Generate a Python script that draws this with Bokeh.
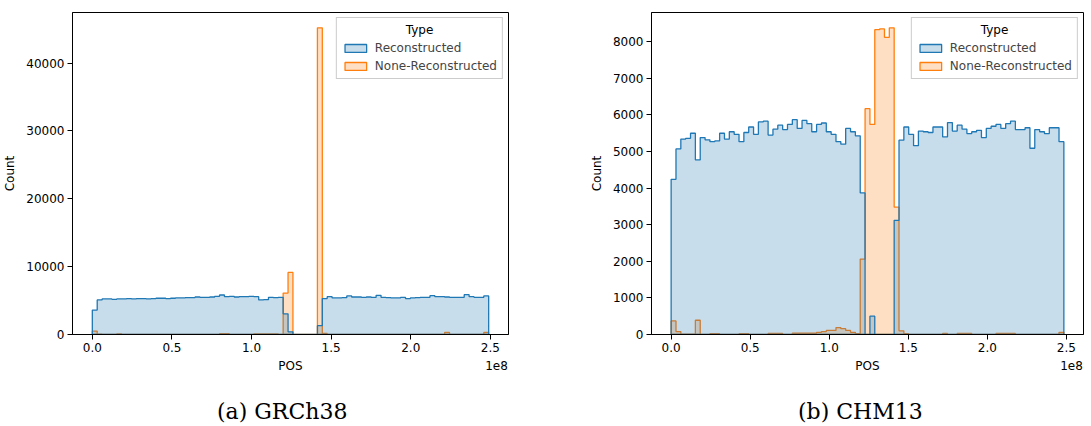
import numpy as np
from bokeh.plotting import figure
from bokeh.models import (Range1d, Legend, LegendItem, Label, FixedTicker, PrintfTickFormatter,
                          LinearAxis, CustomJSTickFormatter, Div)
from bokeh.layouts import row, column
from bokeh.embed import file_html
from bokeh.resources import INLINE

# ---------------- data ----------------
grch38_length = 248956422
chm13_length = 248387328

grch38_reconstructed = [
    3600, 5090, 5240, 5240, 5190, 5240, 5240, 5290, 5240, 5290,
    5290, 5240, 5290, 5340, 5340, 5290, 5340, 5390, 5390, 5440,
    5440, 5530, 5480, 5480, 5530, 5630, 5820, 5580, 5630, 5530,
    5580, 5580, 5630, 5580, 5100, 5140, 5480, 5430, 5480, 3050,
    400, 0, 0, 0, 0, 0, 1300, 5290, 5580, 5390,
    5390, 5430, 5680, 5530, 5530, 5480, 5530, 5480, 5770, 5480,
    5440, 5390, 5390, 5480, 5290, 5390, 5440, 5480, 5480, 5720,
    5580, 5580, 5530, 5480, 5480, 5480, 5870, 5580, 5480, 5480,
    5680,
]
grch38_none_reconstructed = [
    500, 60, 0, 0, 0, 100, 0, 0, 0, 0,
    0, 0, 0, 0, 0, 0, 0, 0, 0, 0,
    0, 0, 0, 0, 0, 0, 120, 120, 0, 0,
    0, 0, 0, 100, 100, 100, 100, 100, 0, 6100,
    9150, 0, 0, 0, 0, 0, 45200, 150, 0, 0,
    0, 0, 0, 0, 0, 0, 0, 0, 0, 0,
    0, 0, 0, 0, 0, 0, 0, 0, 0, 0,
    0, 0, 300, 0, 0, 0, 0, 0, 0, 0,
    300,
]
chm13_reconstructed = [
    4240, 5070, 5340, 5360, 5500, 4770, 5380, 5320, 5270, 5290,
    5500, 5340, 5540, 5470, 5270, 5520, 5670, 5470, 5810, 5830,
    5450, 5610, 5720, 5600, 5740, 5870, 5630, 5850, 5760, 5540,
    5740, 5780, 5540, 5470, 5270, 5200, 5630, 5540, 5430, 3870,
    0, 500, 0, 0, 0, 0, 3120, 5310, 5670, 5470,
    5160, 5560, 5540, 5520, 5670, 5670, 5400, 5790, 5560, 5720,
    5610, 5490, 5540, 5580, 5380, 5630, 5690, 5740, 5630, 5760,
    5830, 5600, 5600, 5650, 5090, 5600, 5540, 5490, 5650, 5650,
    5270,
]
chm13_none_reconstructed = [
    370, 80, 10, 10, 10, 390, 0, 0, 20, 20,
    0, 0, 0, 0, 20, 20, 0, 0, 0, 0,
    30, 30, 30, 0, 0, 40, 40, 40, 40, 40,
    60, 80, 110, 110, 190, 160, 110, 60, 20, 2060,
    6170, 5740, 8330, 8350, 8120, 8380, 3480, 100, 20, 0,
    0, 0, 0, 0, 0, 0, 30, 0, 0, 30,
    30, 30, 0, 0, 0, 0, 0, 30, 30, 30,
    30, 0, 0, 0, 0, 0, 0, 0, 0, 0,
    60,
]

series_labels = ["Reconstructed", "None-Reconstructed"]
legend_title = "Type"
x_axis_texts = ["POS", "1e8"]
y_axis_label = "Count"
x_ticks = [0.0, 0.5, 1.0, 1.5, 2.0, 2.5]
grch38_y_ticks = [0, 10000, 20000, 30000, 40000]
chm13_y_ticks = [0, 1000, 2000, 3000, 4000, 5000, 6000, 7000, 8000]
captions = ["(a) GRCh38", "(b) CHM13"]

# ---------------- style ----------------
BLUE = "#1f77b4"
ORANGE = "#ff7f0e"
FONT = "DejaVu Sans"
FS = "12px"
FRAME_H = 322
TOP = 12
BOTTOM = 40


def style_axis(ax):
    ax.axis_line_color = "black"
    ax.major_tick_line_color = "black"
    ax.major_tick_out = 5
    ax.major_tick_in = 0
    ax.minor_tick_out = 0
    ax.minor_tick_in = 0
    ax.major_label_text_font = FONT
    ax.major_label_text_font_size = FS
    ax.major_label_text_color = "black"
    ax.axis_label_text_font = FONT
    ax.axis_label_text_font_size = FS
    ax.axis_label_text_font_style = "normal"
    ax.axis_label_text_color = "black"


def make_panel(length, recon, none, y_ticks, frame_w, b_left, b_right):
    n = len(recon)
    edges = np.linspace(0, length, n + 1) / 1e8
    ymax = max(max(recon), max(none)) * 1.05
    xpad = (edges[-1] - edges[0]) * 0.05
    x0, x1 = edges[0] - xpad, edges[-1] + xpad
    px = (x1 - x0) / frame_w  # data units per pixel
    p = figure(frame_width=frame_w, frame_height=FRAME_H, output_backend="svg",
               toolbar_location=None, x_range=Range1d(x0, x1), y_range=Range1d(0, ymax),
               min_border_left=b_left, min_border_right=b_right,
               min_border_top=TOP, min_border_bottom=BOTTOM)
    p.background_fill_color = "white"
    p.border_fill_color = "white"
    p.outline_line_color = "black"
    p.outline_line_width = 1
    p.grid.visible = False

    renderers = {}
    for label, vals, color in ((series_labels[1], none, ORANGE), (series_labels[0], recon, BLUE)):
        v = np.asarray(vals, dtype=float)
        xs = np.repeat(edges, 2)
        ys = np.concatenate([[0.0], np.repeat(v, 2), [0.0]])
        r = p.patch(xs, ys, fill_color=color, fill_alpha=0.25,
                    line_color=color, line_width=1.3)
        renderers[label] = r

    legend = Legend(items=[LegendItem(label=series_labels[0], renderers=[renderers[series_labels[0]]]),
                           LegendItem(label=series_labels[1], renderers=[renderers[series_labels[1]]])],
                    location="top_right", title=" ")
    legend.margin = 5
    legend.padding = 5
    legend.spacing = 4
    legend.glyph_width = 27
    legend.glyph_height = 10
    legend.label_standoff = 6
    legend.label_height = 14
    legend.label_text_font = FONT
    legend.label_text_font_size = "12px"
    legend.title_text_font = FONT
    legend.title_text_font_size = "12px"
    legend.title_text_font_style = "normal"
    legend.title_standoff = 4
    legend.border_line_color = "#cccccc"
    legend.border_line_alpha = 1.0
    legend.border_line_width = 1
    legend.background_fill_color = "white"
    legend.background_fill_alpha = 0.0
    p.add_layout(legend)

    # centred legend title
    leg_w = 168
    lx = x1 - (5 + leg_w / 2) * px
    ly = ymax - 17 * ymax / FRAME_H
    p.add_layout(Label(x=lx, y=ly, text=legend_title, text_align="center",
                       text_baseline="middle", text_font=FONT, text_font_size="12px",
                       text_color="black", level="overlay"))

    style_axis(p.xaxis[0])
    style_axis(p.yaxis[0])
    p.xaxis.ticker = FixedTicker(ticks=x_ticks)
    p.xaxis.formatter = PrintfTickFormatter(format="%.1f")
    p.xaxis.major_label_standoff = 3

    p.yaxis.ticker = FixedTicker(ticks=y_ticks)
    p.yaxis.formatter = PrintfTickFormatter(format="%d")
    p.yaxis.major_label_standoff = 3
    p.yaxis.axis_label = y_axis_label
    p.yaxis.axis_label_standoff = 6

    # second, bare axis carrying "POS" (centred) and the "1e8" offset text (right)
    ax2 = LinearAxis(ticker=FixedTicker(ticks=[(x0 + x1) / 2, x1 - 12 * px]),
                     formatter=CustomJSTickFormatter(args=dict(names=x_axis_texts),
                                                     code="return names[index]"))
    style_axis(ax2)
    ax2.axis_line_color = None
    ax2.major_tick_line_color = None
    ax2.major_tick_out = 0
    ax2.major_label_standoff = 4
    p.add_layout(ax2, "below")
    return p


p1 = make_panel(grch38_length, grch38_reconstructed, grch38_none_reconstructed,
                grch38_y_ticks, 436, 68, 45)
p2 = make_panel(chm13_length, chm13_reconstructed, chm13_none_reconstructed,
                chm13_y_ticks, 432, 98, 1)

W1 = 68 + 436 + 45
W2 = 98 + 432 + 1


def caption_div(text, width, left):
    html = ("<div style='margin-left:%dpx; margin-top:19px; font-family:\"DejaVu Serif\";"
            " font-size:22px; line-height:26px; color:#000; white-space:nowrap'>%s</div>"
            % (left, text))
    return Div(text=html, width=width, height=44)


d1 = caption_div(captions[0], W1, 212)
d2 = caption_div(captions[1], W2, 234)

layout = column(row(p1, p2), row(d1, d2))
open("out.html", "w").write(file_html(layout, INLINE))
